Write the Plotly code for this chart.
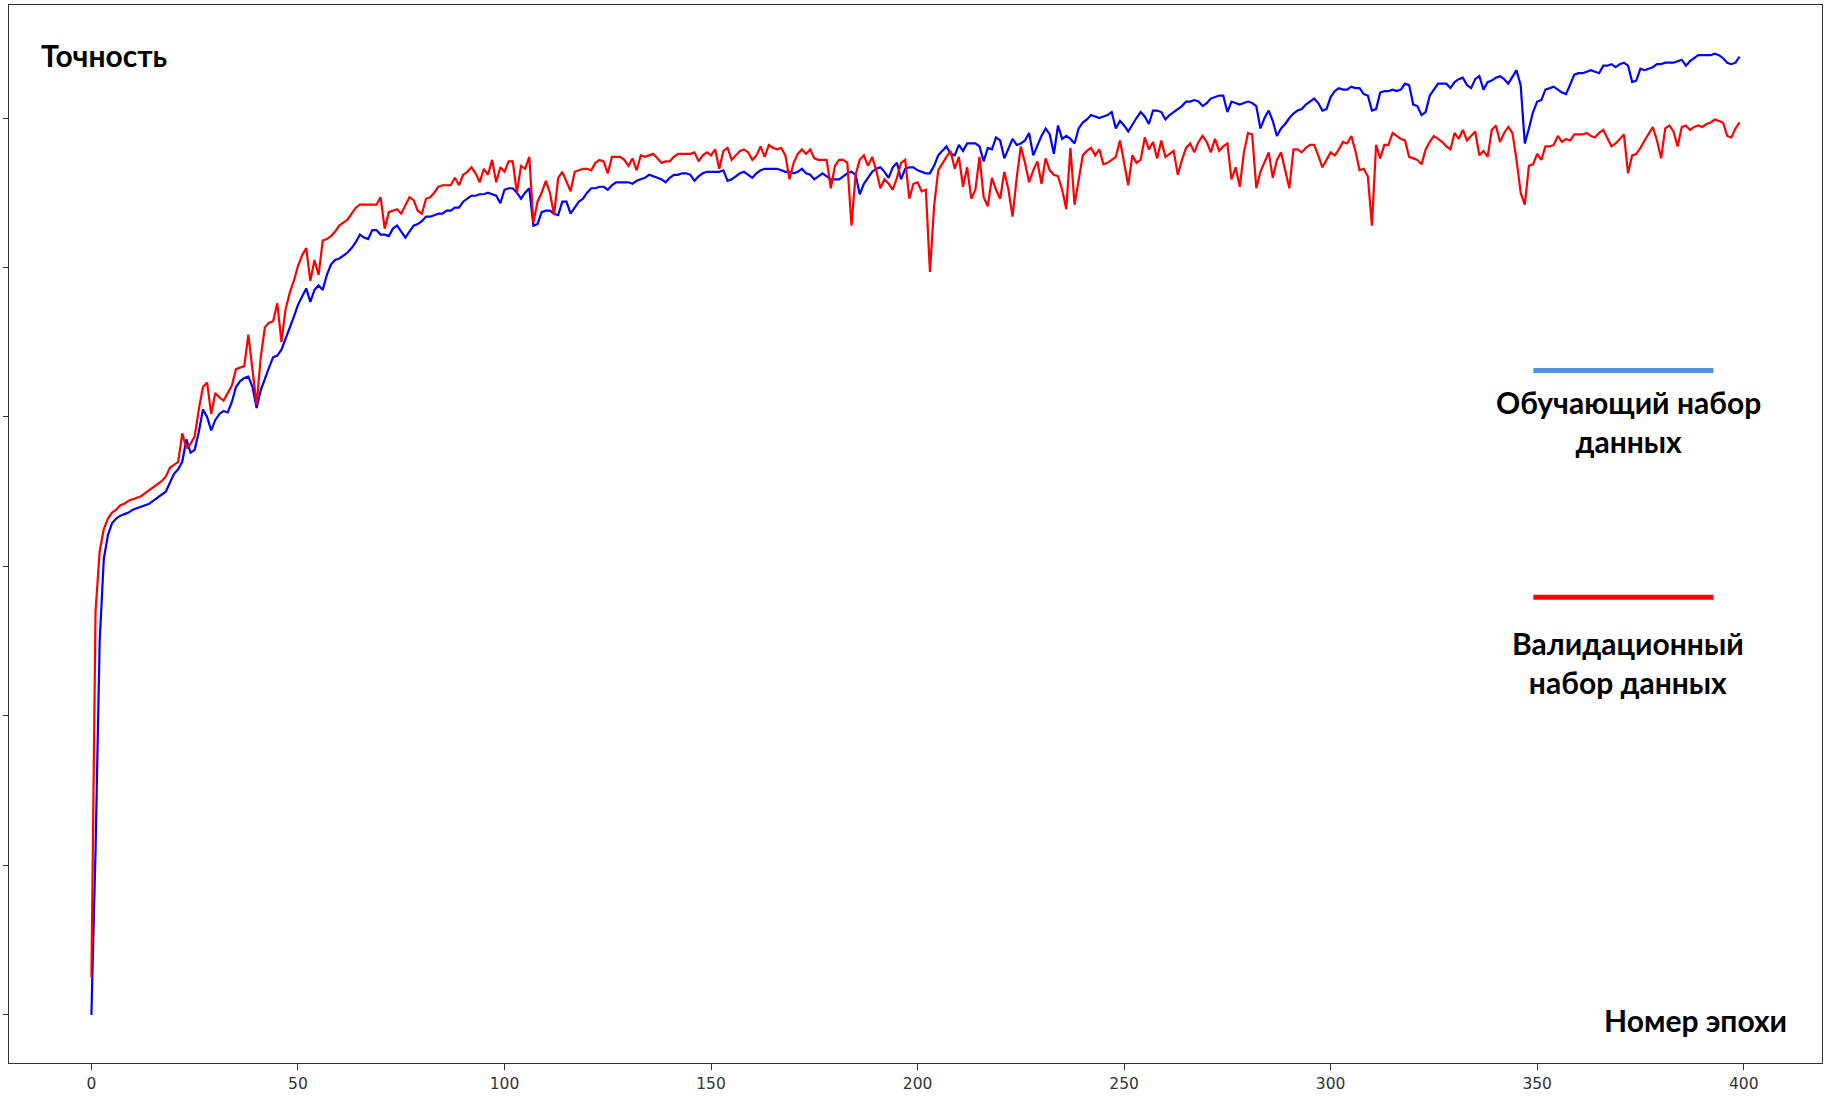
import plotly.graph_objects as go

epochs = list(range(400))

train_acc = [
    0.200, 0.310, 0.450, 0.505, 0.521, 0.529, 0.532, 0.534, 0.535, 0.536,
    0.538, 0.539, 0.540, 0.541, 0.542, 0.544, 0.546, 0.548, 0.550, 0.556,
    0.562, 0.565, 0.570, 0.585, 0.576, 0.578, 0.590, 0.605, 0.600, 0.591,
    0.598, 0.602, 0.604, 0.603, 0.610, 0.620, 0.624, 0.626, 0.627, 0.620,
    0.606, 0.618, 0.626, 0.633, 0.640, 0.641, 0.645, 0.652, 0.660, 0.667,
    0.675, 0.680, 0.686, 0.677, 0.685, 0.688, 0.685, 0.695, 0.702, 0.705,
    0.706, 0.708, 0.710, 0.713, 0.717, 0.722, 0.720, 0.719, 0.725, 0.725,
    0.722, 0.722, 0.721, 0.726, 0.728, 0.724, 0.720, 0.724, 0.728, 0.729,
    0.731, 0.734, 0.734, 0.735, 0.736, 0.736, 0.738, 0.738, 0.740, 0.740,
    0.744, 0.746, 0.748, 0.748, 0.749, 0.749, 0.750, 0.749, 0.748, 0.743,
    0.752, 0.753, 0.753, 0.750, 0.746, 0.750, 0.753, 0.728, 0.729, 0.737,
    0.738, 0.738, 0.736, 0.735, 0.744, 0.744, 0.736, 0.740, 0.744, 0.746,
    0.750, 0.753, 0.753, 0.754, 0.754, 0.752, 0.755, 0.757, 0.757, 0.757,
    0.757, 0.756, 0.758, 0.759, 0.760, 0.762, 0.761, 0.760, 0.759, 0.757,
    0.760, 0.762, 0.762, 0.763, 0.763, 0.762, 0.758, 0.761, 0.763, 0.764,
    0.764, 0.764, 0.764, 0.765, 0.758, 0.759, 0.761, 0.763, 0.764, 0.762,
    0.760, 0.763, 0.765, 0.766, 0.766, 0.766, 0.766, 0.765, 0.764, 0.764,
    0.763, 0.764, 0.766, 0.763, 0.762, 0.759, 0.761, 0.763, 0.761, 0.759,
    0.759, 0.759, 0.761, 0.763, 0.764, 0.762, 0.749, 0.756, 0.760, 0.764,
    0.766, 0.767, 0.764, 0.760, 0.767, 0.770, 0.759, 0.766, 0.767, 0.767,
    0.765, 0.764, 0.763, 0.763, 0.768, 0.775, 0.778, 0.781, 0.776, 0.775,
    0.782, 0.778, 0.783, 0.783, 0.783, 0.781, 0.771, 0.780, 0.779, 0.787,
    0.785, 0.773, 0.780, 0.786, 0.782, 0.783, 0.785, 0.790, 0.775, 0.782,
    0.788, 0.793, 0.789, 0.776, 0.795, 0.786, 0.788, 0.786, 0.783, 0.793,
    0.797, 0.799, 0.802, 0.801, 0.800, 0.801, 0.802, 0.804, 0.793, 0.798,
    0.795, 0.791, 0.796, 0.800, 0.804, 0.801, 0.796, 0.805, 0.805, 0.804,
    0.799, 0.802, 0.804, 0.806, 0.808, 0.811, 0.811, 0.812, 0.811, 0.808,
    0.810, 0.813, 0.814, 0.815, 0.815, 0.804, 0.811, 0.810, 0.809, 0.810,
    0.811, 0.810, 0.808, 0.793, 0.800, 0.805, 0.798, 0.788, 0.793, 0.796,
    0.800, 0.803, 0.805, 0.806, 0.809, 0.811, 0.813, 0.810, 0.805, 0.806,
    0.814, 0.818, 0.820, 0.819, 0.819, 0.821, 0.820, 0.820, 0.816, 0.815,
    0.805, 0.806, 0.817, 0.818, 0.818, 0.819, 0.818, 0.819, 0.823, 0.822,
    0.809, 0.808, 0.802, 0.804, 0.815, 0.819, 0.823, 0.823, 0.823, 0.820,
    0.824, 0.826, 0.827, 0.822, 0.820, 0.826, 0.828, 0.819, 0.824, 0.825,
    0.827, 0.828, 0.826, 0.823, 0.828, 0.832, 0.822, 0.783, 0.793, 0.804,
    0.811, 0.812, 0.819, 0.820, 0.821, 0.819, 0.817, 0.816, 0.823, 0.829,
    0.830, 0.830, 0.831, 0.832, 0.831, 0.830, 0.835, 0.835, 0.836, 0.834,
    0.836, 0.837, 0.835, 0.824, 0.825, 0.833, 0.832, 0.833, 0.834, 0.836,
    0.836, 0.837, 0.837, 0.837, 0.838, 0.839, 0.835, 0.838, 0.840, 0.842,
    0.842, 0.842, 0.842, 0.843, 0.842, 0.840, 0.837, 0.836, 0.837, 0.841,
]

val_acc = [
    0.225, 0.470, 0.510, 0.525, 0.532, 0.536, 0.538, 0.541, 0.542, 0.544,
    0.545, 0.546, 0.547, 0.549, 0.551, 0.553, 0.555, 0.557, 0.560, 0.566,
    0.568, 0.570, 0.589, 0.579, 0.582, 0.587, 0.605, 0.620, 0.623, 0.602,
    0.616, 0.613, 0.611, 0.616, 0.621, 0.632, 0.633, 0.634, 0.655, 0.630,
    0.608, 0.640, 0.660, 0.663, 0.664, 0.676, 0.650, 0.672, 0.683, 0.691,
    0.701, 0.708, 0.713, 0.691, 0.705, 0.695, 0.718, 0.719, 0.721, 0.724,
    0.728, 0.730, 0.732, 0.736, 0.740, 0.742, 0.742, 0.742, 0.742, 0.742,
    0.747, 0.726, 0.737, 0.738, 0.739, 0.736, 0.742, 0.747, 0.745, 0.738,
    0.736, 0.746, 0.747, 0.750, 0.754, 0.755, 0.755, 0.755, 0.760, 0.755,
    0.762, 0.764, 0.767, 0.763, 0.757, 0.766, 0.762, 0.772, 0.757, 0.767,
    0.764, 0.771, 0.771, 0.750, 0.768, 0.766, 0.774, 0.730, 0.744, 0.750,
    0.758, 0.750, 0.735, 0.760, 0.764, 0.758, 0.751, 0.764, 0.765, 0.766,
    0.766, 0.765, 0.770, 0.772, 0.771, 0.763, 0.774, 0.774, 0.774, 0.772,
    0.768, 0.773, 0.765, 0.775, 0.774, 0.775, 0.776, 0.773, 0.770, 0.771,
    0.771, 0.774, 0.776, 0.776, 0.776, 0.776, 0.777, 0.771, 0.775, 0.777,
    0.775, 0.779, 0.766, 0.778, 0.780, 0.772, 0.775, 0.778, 0.779, 0.777,
    0.772, 0.775, 0.781, 0.774, 0.782, 0.780, 0.779, 0.780, 0.775, 0.759,
    0.770, 0.776, 0.779, 0.776, 0.779, 0.773, 0.772, 0.772, 0.772, 0.753,
    0.768, 0.772, 0.772, 0.770, 0.728, 0.762, 0.772, 0.775, 0.768, 0.774,
    0.765, 0.753, 0.759, 0.756, 0.752, 0.760, 0.770, 0.772, 0.746, 0.756,
    0.757, 0.751, 0.752, 0.697, 0.741, 0.765, 0.770, 0.774, 0.778, 0.766,
    0.774, 0.754, 0.767, 0.746, 0.752, 0.774, 0.747, 0.741, 0.760, 0.752,
    0.746, 0.764, 0.752, 0.734, 0.760, 0.781, 0.770, 0.757, 0.765, 0.771,
    0.756, 0.773, 0.765, 0.762, 0.761, 0.752, 0.739, 0.780, 0.742, 0.760,
    0.775, 0.778, 0.780, 0.775, 0.779, 0.769, 0.770, 0.772, 0.774, 0.785,
    0.770, 0.755, 0.775, 0.770, 0.772, 0.787, 0.779, 0.784, 0.773, 0.785,
    0.774, 0.776, 0.778, 0.762, 0.772, 0.780, 0.783, 0.777, 0.784, 0.788,
    0.784, 0.777, 0.786, 0.778, 0.781, 0.783, 0.759, 0.767, 0.754, 0.777,
    0.790, 0.789, 0.753, 0.764, 0.770, 0.777, 0.760, 0.772, 0.777, 0.765,
    0.753, 0.779, 0.779, 0.777, 0.780, 0.782, 0.782, 0.775, 0.767, 0.772,
    0.777, 0.775, 0.779, 0.784, 0.783, 0.788, 0.778, 0.765, 0.766, 0.761,
    0.728, 0.782, 0.773, 0.782, 0.782, 0.790, 0.788, 0.786, 0.785, 0.774,
    0.773, 0.772, 0.769, 0.779, 0.784, 0.788, 0.786, 0.784, 0.781, 0.779,
    0.790, 0.786, 0.792, 0.785, 0.788, 0.791, 0.775, 0.778, 0.774, 0.792,
    0.795, 0.784, 0.790, 0.794, 0.790, 0.772, 0.750, 0.742, 0.768, 0.769,
    0.776, 0.772, 0.781, 0.781, 0.782, 0.788, 0.784, 0.786, 0.785, 0.789,
    0.789, 0.789, 0.790, 0.788, 0.787, 0.790, 0.792, 0.786, 0.781, 0.783,
    0.786, 0.789, 0.763, 0.775, 0.776, 0.780, 0.785, 0.790, 0.794, 0.785,
    0.773, 0.793, 0.795, 0.791, 0.781, 0.794, 0.795, 0.792, 0.794, 0.795,
    0.794, 0.796, 0.797, 0.799, 0.798, 0.797, 0.788, 0.787, 0.793, 0.797,
]

x_ticks = [0, 50, 100, 150, 200, 250, 300, 350, 400]
y_ticks = [0.2, 0.3, 0.4, 0.5, 0.6, 0.7, 0.8]

y_title = "Точность"
x_title = "Номер эпохи"
train_label = "Обучающий набор<br>данных"
val_label = "Валидационный<br>набор данных"

label_font = dict(family="Lato, 'Open Sans', sans-serif", size=30, color="black", weight="bold")

fig = go.Figure()
fig.add_trace(go.Scatter(x=epochs, y=train_acc, mode="lines",
                         line=dict(color="#0000ff", width=2.2), showlegend=False))
fig.add_trace(go.Scatter(x=epochs, y=val_acc, mode="lines",
                         line=dict(color="#ff0000", width=2.2), showlegend=False))

fig.update_layout(
    width=1829, height=1097,
    margin=dict(l=9, r=7, t=4, b=31),
    paper_bgcolor="white", plot_bgcolor="white",
    showlegend=False,
    xaxis=dict(range=[-19.95, 418.95], tickvals=x_ticks, ticks="outside", ticklen=6,
               tickcolor="#333", tickwidth=1, showgrid=False, zeroline=False,
               showline=True, linecolor="#333", linewidth=1, mirror=True,
               tickfont=dict(family="DejaVu Sans", size=15.5, color="#333")),
    yaxis=dict(range=[0.1678, 0.8756], tickvals=y_ticks, ticks="outside", ticklen=5,
               tickcolor="#333", tickwidth=1, showticklabels=False, showgrid=False,
               zeroline=False, showline=True, linecolor="#333", linewidth=1, mirror=True),
)

fig.add_annotation(xref="paper", yref="paper", x=0.0522, y=0.9524, text=y_title,
                   showarrow=False, font=label_font, xanchor="center", yanchor="middle")
fig.add_annotation(xref="paper", yref="paper", x=0.930, y=0.041, text=x_title,
                   showarrow=False, font=label_font, xanchor="center", yanchor="middle")
fig.add_annotation(xref="paper", yref="paper", x=0.8932, y=0.606, text=train_label,
                   showarrow=False, font=label_font, xanchor="center",
                   yanchor="middle", align="center")
fig.add_annotation(xref="paper", yref="paper", x=0.8932, y=0.3784, text=val_label,
                   showarrow=False, font=label_font, xanchor="center",
                   yanchor="middle", align="center")

fig.add_shape(type="line", xref="paper", yref="paper", x0=0.8408, x1=0.9401,
              y0=0.6546, y1=0.6546, line=dict(color="#5590DA", width=5))
fig.add_shape(type="line", xref="paper", yref="paper", x0=0.8408, x1=0.9401,
              y0=0.4403, y1=0.4403, line=dict(color="#ff0000", width=5))

fig.write_html("out.html", config={"displayModeBar": False},
               post_script="document.body.style.margin='0';document.body.style.overflow='hidden';")
